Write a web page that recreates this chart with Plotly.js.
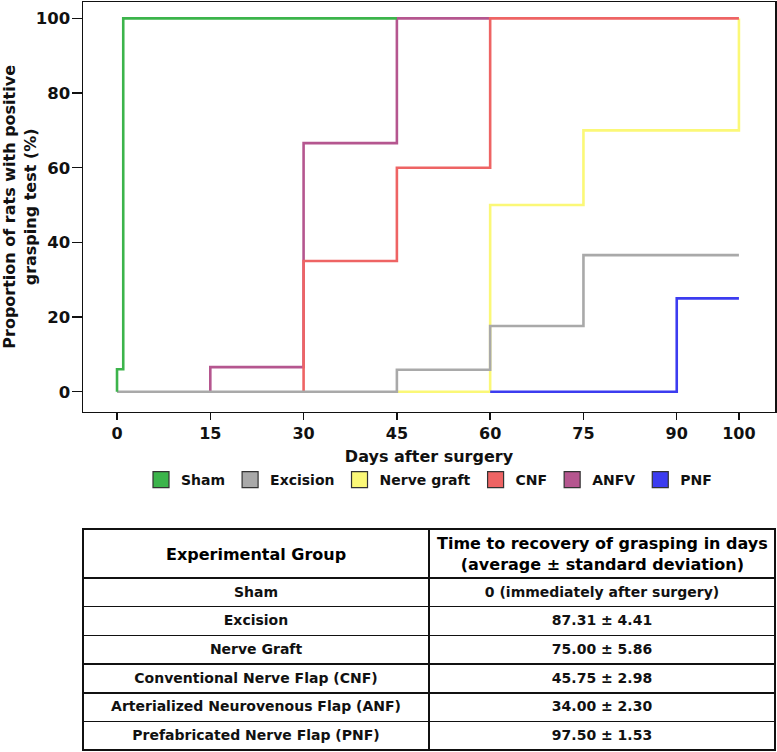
<!DOCTYPE html>
<html>
<head>
<meta charset="utf-8">
<script src="https://cdn.plot.ly/plotly-3.0.1.min.js"></script>
<style>html,body{margin:0;padding:0;background:#fff;}#chart{width:777px;height:752px;}</style>
</head>
<body>
<div id="chart"></div>
<script>
// ---- data ----
const seriesNames = ['Sham', 'Excision', 'Nerve graft', 'CNF', 'ANFV', 'PNF'];
const seriesColors = ['#3cb44b', '#a9a9a9', '#fbf877', '#ee6464', '#b5568f', '#3c3cf0'];

const shamX = [0, 0, 1, 45];
const shamY = [0, 6, 100, 100];
const excisionX = [0, 45, 60, 75, 100];
const excisionY = [0, 5.9, 17.6, 36.6, 36.6];
const graftX = [45, 60, 75, 100];
const graftY = [0, 50, 70, 100];
const cnfX = [30, 30, 45, 60, 100];
const cnfY = [0, 35, 60, 100, 100];
const anfvX = [15, 15, 30, 45, 60];
const anfvY = [0, 6.6, 66.6, 100, 100];
const pnfX = [60, 90, 100];
const pnfY = [0, 25, 25];

const xTickVals = [0, 15, 30, 45, 60, 75, 90, 100];
const yTickVals = [0, 20, 40, 60, 80, 100];

const tableGroups = ['Sham', 'Excision', 'Nerve Graft', 'Conventional Nerve Flap (CNF)',
  'Arterialized Neurovenous Flap (ANF)', 'Prefabricated Nerve Flap (PNF)'];
const tableTimes = ['0 (immediately after surgery)', '87.31 ± 4.41', '75.00 ± 5.86',
  '45.75 ± 2.98', '34.00 ± 2.30', '97.50 ± 1.53'];
const groupHeader = 'Experimental Group';
const timeHeader = 'Time to recovery of grasping in days<br>(average ± standard deviation)';

// ---- traces ----
const lineData = [
  {x: graftX, y: graftY, i: 2},
  {x: pnfX, y: pnfY, i: 5},
  {x: anfvX, y: anfvY, i: 4},
  {x: cnfX, y: cnfY, i: 3},
  {x: excisionX, y: excisionY, i: 1},
  {x: shamX, y: shamY, i: 0}
];
const traces = lineData.map(d => ({
  type: 'scatter', mode: 'lines', x: d.x, y: d.y,
  line: {shape: 'hv', color: seriesColors[d.i], width: 2.6},
  showlegend: false, hoverinfo: 'skip', xaxis: 'x', yaxis: 'y'
}));
seriesNames.forEach((n, i) => {
  traces.push({
    type: 'scatter', mode: 'markers', x: [null], y: [null], name: n,
    marker: {symbol: 'square', size: 16, color: seriesColors[i], line: {color: '#333', width: 1.2}},
    showlegend: true, xaxis: 'x', yaxis: 'y'
  });
});
traces.push({
  type: 'table',
  domain: {x: [0, 1], y: [0, 0.2973]},
  columnwidth: [1, 1],
  header: {
    values: ['', ''],
    align: 'center', height: 49,
    line: {color: '#111', width: 1.5},
    fill: {color: '#fff'},
    font: {family: 'DejaVu Sans', size: 16, color: '#000', weight: 'bold'}
  },
  cells: {
    values: [tableGroups, tableTimes],
    align: 'center', height: 28.7,
    line: {color: '#111', width: 1.5},
    fill: {color: '#fff'},
    font: {family: 'DejaVu Sans', size: 14, color: '#111', weight: 'bold'}
  }
});

const headerFont = {family: 'DejaVu Sans', size: 16, color: '#000', weight: 'bold'};
const layout = {
  width: 777, height: 752,
  margin: {l: 83, r: 2, t: 2, b: 0},
  paper_bgcolor: '#fff', plot_bgcolor: '#fff',
  showlegend: true,
  legend: {
    orientation: 'h', x: 0.5, xanchor: 'center', y: 0.3627, yanchor: 'middle',
    font: {family: 'DejaVu Sans', size: 14, color: '#111', weight: 'bold'}
  },
  annotations: [
    {text: groupHeader, xref: 'paper', yref: 'paper', x: 0.25, y: 0.264,
      xanchor: 'center', yanchor: 'middle', showarrow: false, font: headerFont},
    {text: timeHeader, xref: 'paper', yref: 'paper', x: 0.75, y: 0.264,
      xanchor: 'center', yanchor: 'middle', showarrow: false, font: headerFont}
  ],
  xaxis: {
    domain: [0, 1], anchor: 'y',
    range: [-5.47, 105.8], tickvals: xTickVals,
    showgrid: false, zeroline: false,
    showline: true, mirror: true, linecolor: '#111', linewidth: 1.5,
    ticks: 'outside', ticklen: 7, tickwidth: 1.5, tickcolor: '#111',
    tickfont: {family: 'DejaVu Sans', size: 16, color: '#111', weight: 'bold'},
    title: {text: 'Days after surgery', standoff: 8,
      font: {family: 'DejaVu Sans', size: 16, color: '#111', weight: 'bold'}}
  },
  yaxis: {
    domain: [0.4537, 1], anchor: 'x',
    range: [-5.36, 104.4], tickvals: yTickVals,
    showgrid: false, zeroline: false,
    showline: true, mirror: true, linecolor: '#111', linewidth: 1.5,
    ticks: 'outside', ticklen: 10, tickwidth: 1.5, tickcolor: '#111',
    ticklabelstandoff: -2,
    tickfont: {family: 'DejaVu Sans', size: 16.5, color: '#111', weight: 'bold'},
    title: {text: 'Proportion of rats with positive<br>grasping test (%)', standoff: 8,
      font: {family: 'DejaVu Sans', size: 16, color: '#111', weight: 'bold'}}
  }
};

Plotly.newPlot('chart', traces, layout, {displayModeBar: false, staticPlot: true});
</script>
</body>
</html>
